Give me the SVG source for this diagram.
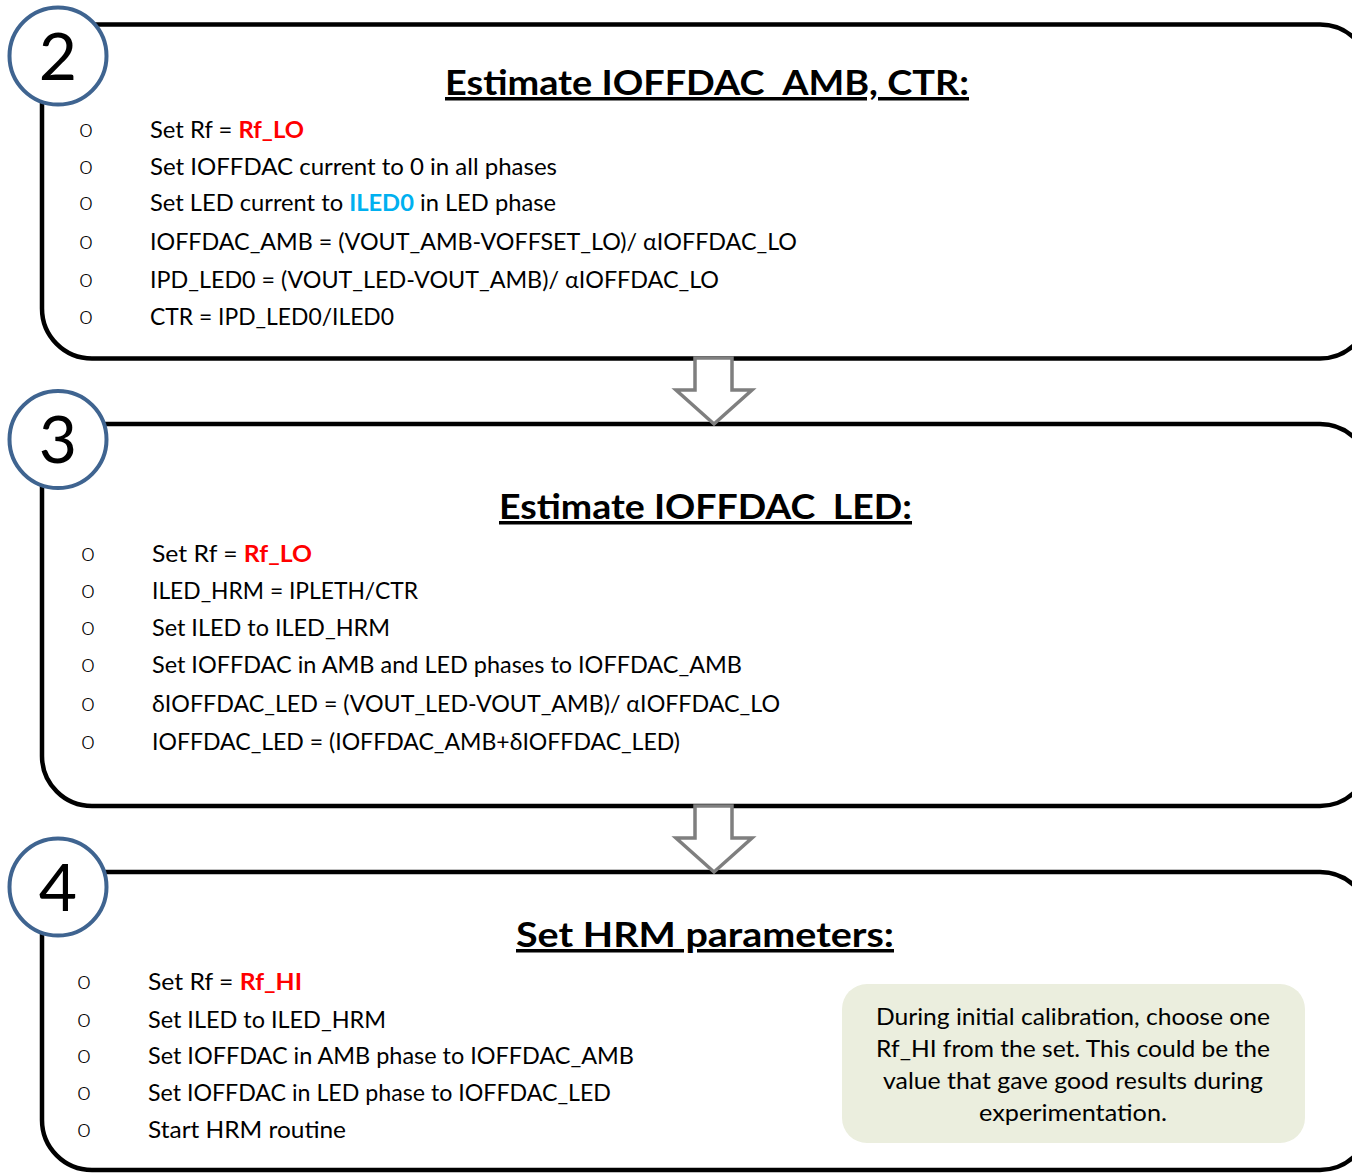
<svg xmlns="http://www.w3.org/2000/svg" width="1352" height="1173" viewBox="0 0 1352 1173">
<style>
.box{fill:#fff;stroke:#000;stroke-width:4.5}
.num{fill:#fff;stroke:#3F6490;stroke-width:4}
.digit{font-family:Lato,"Liberation Sans",sans-serif;font-size:66px;fill:#000;text-anchor:middle}
.title{font-family:Lato,"Liberation Sans",sans-serif;font-size:35px;font-weight:bold;fill:#000;text-decoration:underline}
.t{font-family:Lato,"Liberation Sans",sans-serif;font-size:23px;fill:#000}
.b{font-family:Lato,"Liberation Sans",sans-serif;font-size:25px;font-weight:300;fill:#000;text-anchor:middle}
.red{fill:#FF0000;font-weight:bold}
.blue{fill:#00B0F0;font-weight:bold}
.arrow{fill:#fff;stroke:#7F7F7F;stroke-width:3.5;stroke-linejoin:miter}
.note{fill:#EBEEDE}
.nt{font-family:Lato,"Liberation Sans",sans-serif;font-size:23px;fill:#000;text-anchor:middle}
</style>

<g id="step2">
<rect class="box" x="42" y="24.5" width="1328" height="334" rx="50"/>
<circle class="num" cx="58" cy="56" r="48.5"/>
<text class="digit" x="58" y="80">2</text>
<text class="title" x="445" y="95" textLength="524" lengthAdjust="spacingAndGlyphs">Estimate IOFFDAC_AMB, CTR:</text>
<text class="b" x="86" y="137">o</text>
<text class="t" x="150" y="138" textLength="154" lengthAdjust="spacingAndGlyphs">Set Rf = <tspan class="red">Rf_LO</tspan></text>
<text class="b" x="86" y="174">o</text>
<text class="t" x="150" y="175" textLength="407" lengthAdjust="spacingAndGlyphs">Set IOFFDAC current to 0 in all phases</text>
<text class="b" x="86" y="210">o</text>
<text class="t" x="150" y="211" textLength="406" lengthAdjust="spacingAndGlyphs">Set LED current to <tspan class="blue">ILED0</tspan> in LED phase</text>
<text class="b" x="86" y="249">o</text>
<text class="t" x="150" y="250" textLength="647" lengthAdjust="spacingAndGlyphs">IOFFDAC_AMB = (VOUT_AMB-VOFFSET_LO)/ αIOFFDAC_LO</text>
<text class="b" x="86" y="287">o</text>
<text class="t" x="150" y="288" textLength="569" lengthAdjust="spacingAndGlyphs">IPD_LED0 = (VOUT_LED-VOUT_AMB)/ αIOFFDAC_LO</text>
<text class="b" x="86" y="324">o</text>
<text class="t" x="150" y="325" textLength="244" lengthAdjust="spacingAndGlyphs">CTR = IPD_LED0/ILED0</text>
</g>

<g id="step3">
<rect class="box" x="42" y="424" width="1328" height="382" rx="50"/>
<circle class="num" cx="58" cy="439.5" r="48.5"/>
<text class="digit" x="58" y="463">3</text>
<text class="title" x="499" y="519" textLength="413" lengthAdjust="spacingAndGlyphs">Estimate IOFFDAC_LED:</text>
<text class="b" x="88" y="561">o</text>
<text class="t" x="152" y="562" textLength="160" lengthAdjust="spacingAndGlyphs">Set Rf  = <tspan class="red">Rf_LO</tspan></text>
<text class="b" x="88" y="598">o</text>
<text class="t" x="152" y="599" textLength="266" lengthAdjust="spacingAndGlyphs">ILED_HRM = IPLETH/CTR</text>
<text class="b" x="88" y="635">o</text>
<text class="t" x="152" y="636" textLength="238" lengthAdjust="spacingAndGlyphs">Set ILED to ILED_HRM</text>
<text class="b" x="88" y="672">o</text>
<text class="t" x="152" y="673" textLength="590" lengthAdjust="spacingAndGlyphs">Set IOFFDAC in AMB and LED phases to IOFFDAC_AMB</text>
<text class="b" x="88" y="711">o</text>
<text class="t" x="152" y="712" textLength="628" lengthAdjust="spacingAndGlyphs">δIOFFDAC_LED = (VOUT_LED-VOUT_AMB)/ αIOFFDAC_LO</text>
<text class="b" x="88" y="749">o</text>
<text class="t" x="152" y="750" textLength="528" lengthAdjust="spacingAndGlyphs">IOFFDAC_LED = (IOFFDAC_AMB+δIOFFDAC_LED)</text>
</g>

<g id="step4">
<rect class="box" x="42" y="872" width="1328" height="298" rx="50"/>
<circle class="num" cx="58" cy="887" r="48.5"/>
<text class="digit" x="58" y="911">4</text>
<text class="title" x="516" y="947" textLength="378" lengthAdjust="spacingAndGlyphs">Set HRM parameters:</text>
<text class="b" x="84" y="989">o</text>
<text class="t" x="148" y="990" textLength="154" lengthAdjust="spacingAndGlyphs">Set Rf  = <tspan class="red">Rf_HI</tspan></text>
<text class="b" x="84" y="1027">o</text>
<text class="t" x="148" y="1028" textLength="238" lengthAdjust="spacingAndGlyphs">Set ILED to ILED_HRM</text>
<text class="b" x="84" y="1063">o</text>
<text class="t" x="148" y="1064" textLength="486" lengthAdjust="spacingAndGlyphs">Set IOFFDAC in AMB phase to IOFFDAC_AMB</text>
<text class="b" x="84" y="1100">o</text>
<text class="t" x="148" y="1101" textLength="463" lengthAdjust="spacingAndGlyphs">Set IOFFDAC in LED phase to IOFFDAC_LED</text>
<text class="b" x="84" y="1137">o</text>
<text class="t" x="148" y="1138" textLength="198" lengthAdjust="spacingAndGlyphs">Start HRM routine</text>
</g>

<g id="note">
<rect class="note" x="842" y="984" width="463" height="159" rx="25"/>
<text class="nt" x="1073" y="1025" textLength="394" lengthAdjust="spacingAndGlyphs">During initial calibration, choose one</text>
<text class="nt" x="1073" y="1057" textLength="394" lengthAdjust="spacingAndGlyphs">Rf_HI from the set. This could be the</text>
<text class="nt" x="1073" y="1089" textLength="380" lengthAdjust="spacingAndGlyphs">value that gave good results during</text>
<text class="nt" x="1073" y="1121" textLength="188" lengthAdjust="spacingAndGlyphs">experimentation.</text>
</g>

<g id="connectors">
<polygon class="arrow" points="695,358 732,358 732,390 752,390 714,424 676,390 695,390"/>
<polygon class="arrow" points="695,806 732,806 732,838 752,838 714,872 676,838 695,838"/>
</g>
</svg>
